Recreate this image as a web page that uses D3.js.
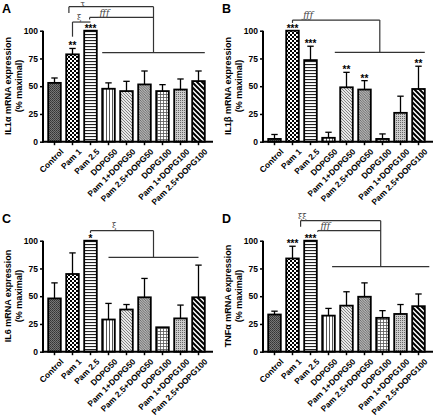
<!DOCTYPE html>
<html><head><meta charset="utf-8">
<script src="https://cdn.jsdelivr.net/npm/d3@7"></script>
<style>
body{margin:0;background:#fff;}
svg{display:block;font-family:"Liberation Sans",Arial,sans-serif;}
</style></head>
<body>
<svg id="chart" width="440" height="417"></svg>
<script>
const categories = ["Control","Pam 1","Pam 2.5","DOPG50","Pam 1+DOPG50","Pam 2.5+DOPG50","DOPG100","Pam 1+DOPG100","Pam 2.5+DOPG100"];
const yTicks = [0,25,50,75,100];

const il1aMean = [53,78.7,100,47.7,45.6,51.6,45.6,47,54.6];
const il1aErr  = [4.4,5.3,0,5.3,8.8,12.1,5.8,9.5,9.1];
const il1aStars = ["","**","***","","","","","",""];

const il1bMean = [2.5,100,73.5,3.5,49,47,2.5,26,47.5];
const il1bErr  = [4,0,12.5,5,13.5,8,4.5,15,20.5];
const il1bStars = ["","***","***","","**","**","","","**"];

const il6Mean = [48,70,100,29,38,49,22,30,49];
const il6Err  = [14,19,0,14.5,4.5,17,0,12,29];
const il6Stars = ["","","*","","","","","",""];

const tnfMean = [33.5,84,100,32.5,41.5,49.5,30.5,34,41];
const tnfErr  = [3,11,0,6.5,12.5,12.5,6.5,8.5,11];
const tnfStars = ["","***","***","","","","","",""];

// significance brackets (category index units, value units)
const il1aGroup = {from:2.65,to:8.35,level:80.2};
const il1aBrackets = [
  {from:0.8,level:121.6,drop:116,label:"τ",labelAt:1.45,labelLevel:122.2},
  {from:1.95,level:112,drop:110,label:"ƒƒƒ",labelAt:2.5,labelLevel:113.5,italic:true},
  {from:1,to:2,level:107.8,drop:94.6,label:"ξ",labelAt:1.25,labelLevel:109.5}
];
const il1bGroup = {from:3.35,to:8.35,level:80.5};
const il1bBrackets = [
  {from:1,level:109.6,drop:107,label:"ƒƒƒ",labelAt:1.6,labelLevel:111.5,italic:true}
];
const il6Group = {from:3,to:8,level:85};
const il6Brackets = [
  {from:2,level:109,drop:107,label:"ξ",labelAt:3.2,labelLevel:111}
];
const tnfGroup = {from:3.2,to:8.6,level:76.6};
const tnfBrackets = [
  {from:1.45,level:118,drop:112.6,label:"ξξ",labelAt:1.3,labelLevel:120},
  {from:2.4,level:109,drop:108,label:"ƒƒƒ",labelAt:2.55,labelLevel:110.5,italic:true}
];

const panels = [
  {letter:"A",title:"IL1α mRNA expression",mean:il1aMean,err:il1aErr,stars:il1aStars,group:il1aGroup,brackets:il1aBrackets,ox:0,oy:0},
  {letter:"B",title:"IL1β mRNA expression",mean:il1bMean,err:il1bErr,stars:il1bStars,group:il1bGroup,brackets:il1bBrackets,ox:220,oy:0},
  {letter:"C",title:"IL6 mRNA expression",mean:il6Mean,err:il6Err,stars:il6Stars,group:il6Group,brackets:il6Brackets,ox:0,oy:210},
  {letter:"D",title:"TNFα mRNA expression",mean:tnfMean,err:tnfErr,stars:tnfStars,group:tnfGroup,brackets:tnfBrackets,ox:220,oy:210}
];

const svg = d3.select("#chart");
const defs = svg.append("defs");

// patterns
function pat(id,w,h,bg){
  const p = defs.append("pattern").attr("id",id).attr("patternUnits","userSpaceOnUse").attr("width",w).attr("height",h);
  p.append("rect").attr("width",w).attr("height",h).attr("fill",bg);
  return p;
}
let p;
p = pat("p0",2,2,"#777");
p.append("rect").attr("width",1).attr("height",1).attr("fill","#333");
p.append("rect").attr("x",1).attr("y",1).attr("width",1).attr("height",1).attr("fill","#444");
p = pat("p1",4,4,"#fff");
p.append("rect").attr("width",2).attr("height",2).attr("fill","#000");
p.append("rect").attr("x",2).attr("y",2).attr("width",2).attr("height",2).attr("fill","#000");
p = pat("p2",3,3,"#fff");
p.append("rect").attr("y",1).attr("width",3).attr("height",1.1).attr("fill","#222");
p = pat("p3",3,3,"#fff");
p.append("rect").attr("x",1).attr("width",0.9).attr("height",3).attr("fill","#444");
p = pat("p4",3,3,"#e8e8e8");
p.append("path").attr("d","M-1,-1 L4,4 M-1,2 L1,4 M2,-1 L4,1").attr("stroke","#777").attr("stroke-width",0.9);
p = pat("p5",2.5,2.5,"#ddd");
p.append("path").attr("d","M-1,-1 L3.5,3.5 M-1,1.5 L1,3.5 M1.5,-1 L3.5,1").attr("stroke","#555").attr("stroke-width",0.9);
p = pat("p6",3,3,"#fff");
p.append("rect").attr("y",1).attr("width",3).attr("height",0.8).attr("fill","#555");
p.append("rect").attr("x",1).attr("width",0.8).attr("height",3).attr("fill","#555");
p = pat("p7",2,2,"#ccc");
p.append("rect").attr("width",1).attr("height",1).attr("fill","#666");
p = pat("p8",5,5,"#fff");
p.append("path").attr("d","M-1,-1 L6,6 M-1,4 L1,6 M4,-1 L6,1").attr("stroke","#000").attr("stroke-width",2);

panels.forEach(P=>{
  const g = svg.append("g").attr("transform",`translate(${P.ox},${P.oy})`);
  const y = d3.scaleLinear().domain([0,100]).range([141.7,30.7]);
  const x = d3.scaleBand().domain(categories).range([45.5,207.5]).paddingInner(0.3).paddingOuter(0.15);
  const bw = x.bandwidth();
  const xi = i => x(categories[0]) + bw/2 + i*x.step();

  // panel letter
  g.append("text").attr("x",2).attr("y",13).attr("font-size",12.5).attr("font-weight","bold").text(P.letter);

  // y title
  const tg = g.append("g").attr("transform",`translate(0,86) rotate(-90)`);
  tg.append("text").attr("x",0).attr("y",11).attr("text-anchor","middle").attr("font-size",9).attr("font-weight","bold").text(P.title);
  tg.append("text").attr("x",0).attr("y",22).attr("text-anchor","middle").attr("font-size",9).attr("font-weight","bold").text("(% maximal)");

  // bars
  g.selectAll("rect.bar").data(categories).enter().append("rect")
    .attr("x",d=>x(d)).attr("width",bw)
    .attr("y",(d,i)=>y(P.mean[i])).attr("height",(d,i)=>y(0)-y(P.mean[i]))
    .attr("fill",(d,i)=>`url(#p${i})`).attr("stroke","#000").attr("stroke-width",1.8);

  // error bars (upper)
  categories.forEach((c,i)=>{
    if(P.err[i]<=0) return;
    const cx = x(c)+bw/2, t = y(P.mean[i]+P.err[i]);
    g.append("line").attr("x1",cx).attr("x2",cx).attr("y1",y(P.mean[i])).attr("y2",t).attr("stroke","#000").attr("stroke-width",1.3);
    g.append("line").attr("x1",cx-3.2).attr("x2",cx+3.2).attr("y1",t).attr("y2",t).attr("stroke","#000").attr("stroke-width",1.3);
  });

  // stars
  categories.forEach((c,i)=>{
    if(!P.stars[i]) return;
    const cx = x(c)+bw/2, t = y(P.mean[i]+P.err[i]);
    g.append("text").attr("x",cx).attr("y",t+1).attr("text-anchor","middle").attr("font-size",10).attr("font-weight","bold").text(P.stars[i]);
  });

  // axes
  const ya = g.append("g").attr("transform","translate(43,0)")
    .call(d3.axisLeft(y).tickValues(yTicks).tickSize(3).tickSizeOuter(0).tickPadding(2));
  ya.select(".domain").remove();
  ya.selectAll(".tick line").attr("stroke-width",1.5);
  ya.selectAll("text").attr("font-size",8.5).attr("font-weight","bold").attr("font-family","Liberation Sans, Arial, sans-serif");
  g.append("line").attr("x1",43).attr("x2",43).attr("y1",y(0)+1).attr("y2",y(100)).attr("stroke","#000").attr("stroke-width",2);

  const xa = g.append("g").attr("transform",`translate(0,${y(0)})`)
    .call(d3.axisBottom(x).tickSize(3.5).tickSizeOuter(0));
  xa.select(".domain").remove();
  xa.selectAll(".tick line").attr("stroke-width",1.5);
  xa.selectAll("text").attr("font-size",8.4).attr("font-weight","bold").attr("font-family","Liberation Sans, Arial, sans-serif")
    .attr("text-anchor","end").attr("transform","translate(2,3) rotate(-45)").attr("dy","0.5em").attr("dx","0");
  g.append("line").attr("x1",42).attr("x2",213).attr("y1",y(0)).attr("y2",y(0)).attr("stroke","#000").attr("stroke-width",2);

  // group line
  const gl = xi(P.group.from), gr = xi(P.group.to), gc = (gl+gr)/2;
  const ln = (x1,y1,x2,y2)=>g.append("line").attr("x1",x1).attr("y1",y1).attr("x2",x2).attr("y2",y2).attr("stroke","#333").attr("stroke-width",1.2);
  ln(gl,y(P.group.level),gr,y(P.group.level));
  let top = P.group.level;
  P.brackets.forEach(b=>{
    const x1 = xi(b.from), x2 = b.to===undefined ? gc : xi(b.to);
    ln(x1,y(b.level),x2,y(b.level));
    ln(x1,y(b.level),x1,y(b.drop));
    if(b.to===undefined) top = Math.max(top,b.level);
    g.append("text").attr("x",xi(b.labelAt)).attr("y",y(b.labelLevel))
      .attr("text-anchor","start").attr("font-size",b.italic?9:8)
      .attr("font-family","DejaVu Serif, serif").attr("font-style",b.italic?"italic":"normal")
      .attr("fill","#444").text(b.label);
  });
  ln(gc,y(top),gc,y(P.group.level));
});
</script>
</body></html>
